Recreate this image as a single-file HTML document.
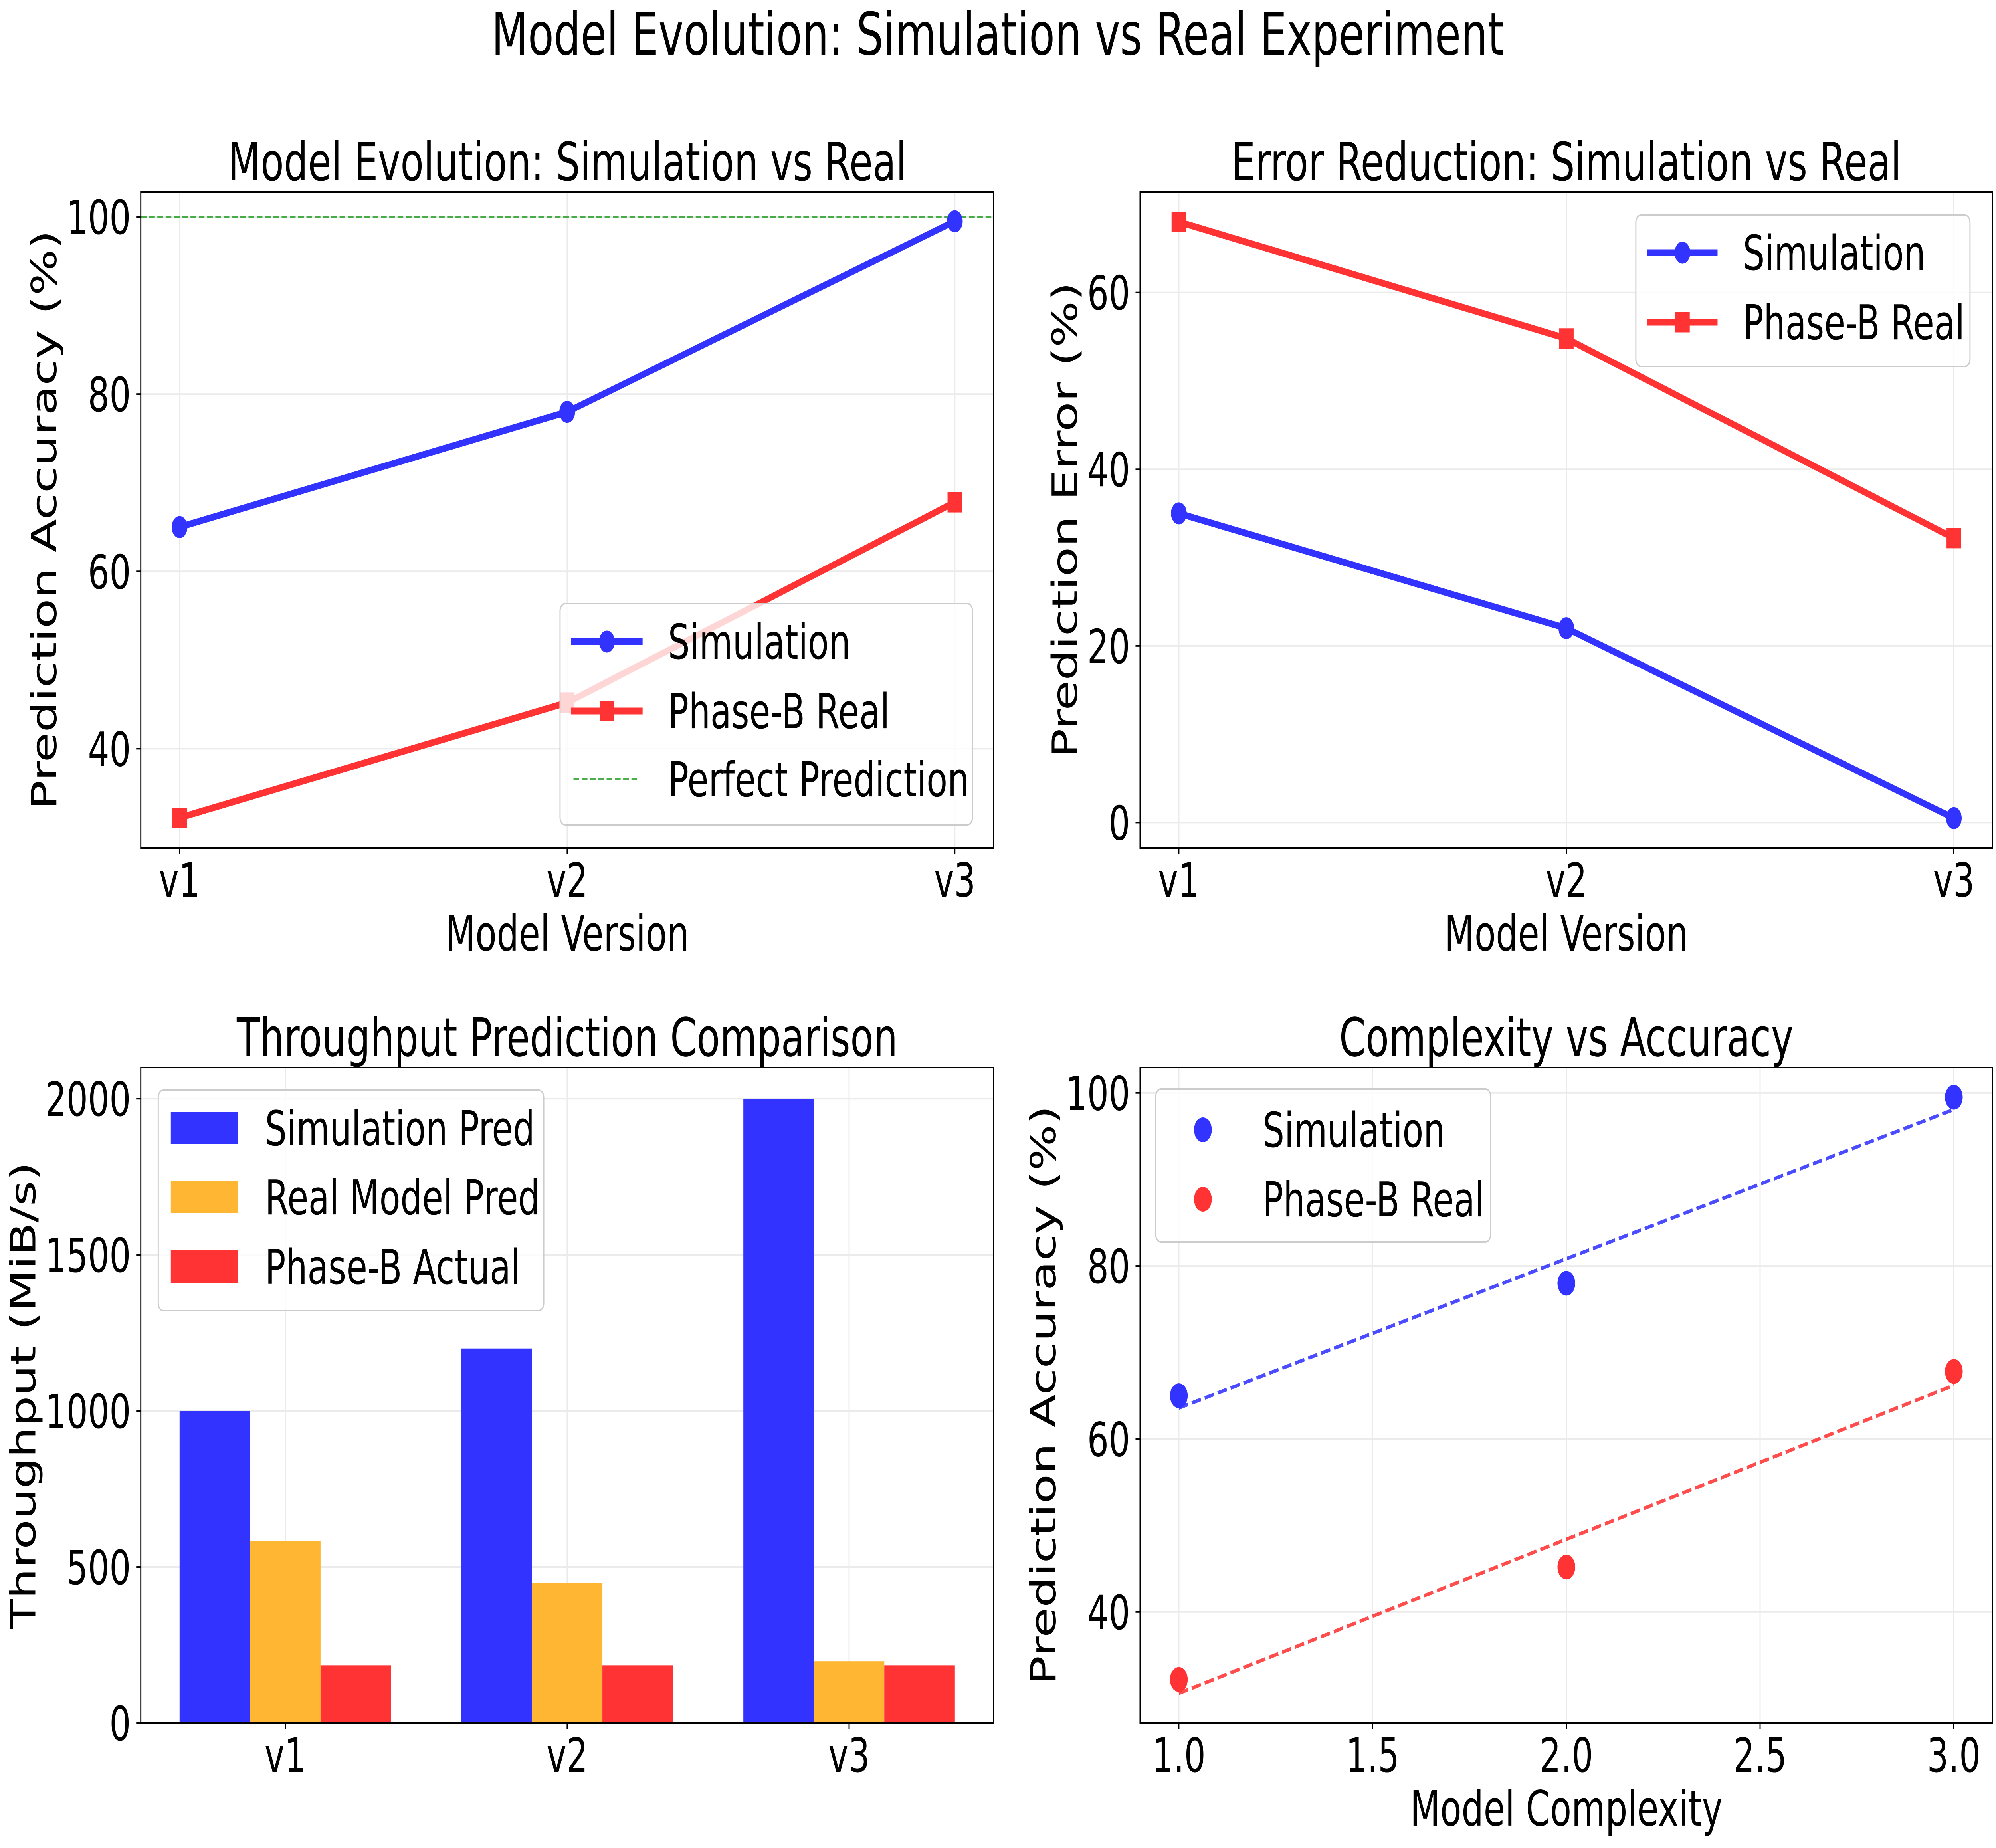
<!DOCTYPE html>
<html><head><meta charset="utf-8">
<style>
html,body{margin:0;padding:0;background:#fff;width:100%;height:100%;overflow:hidden;}
svg{display:block;width:100vw;height:100vh;font-family:"DejaVu Sans","Liberation Sans",sans-serif;}
</style></head>
<body>
<svg id="fig" xmlns="http://www.w3.org/2000/svg" viewBox="0 0 6989 4629" preserveAspectRatio="none">
<rect x="0" y="0" width="6989" height="4629" fill="#fff"/>
<text x="3494" y="137" font-size="148" text-anchor="middle">Model Evolution: Simulation vs Real Experiment</text>
</svg>
<script>
// ---- data ----
const versions = ["v1","v2","v3"];
const simAccuracy = [65, 78, 99.5];
const realAccuracy = [32.2, 45.2, 67.8];
const simError = [35, 22, 0.5];
const realError = [68, 54.8, 32.2];
const simPred = [1000, 1200, 2000];
const realModelPred = [582, 448, 198];
const phaseBActual = [185, 185, 185];
const complexity = [1, 2, 3];
const accTicks = [40, 60, 80, 100];
const errTicks = [0, 20, 40, 60];
const thrTicks = [0, 500, 1000, 1500, 2000];
const cxTicks = [1.0, 1.5, 2.0, 2.5, 3.0];
const cxTickLabels = ["1.0","1.5","2.0","2.5","3.0"];

const NS = "http://www.w3.org/2000/svg";
const fig = document.getElementById('fig');
function el(tag, attrs, parent, text){
  const e = document.createElementNS(NS, tag);
  for (const k in attrs) e.setAttribute(k, attrs[k]);
  if (text !== undefined) e.textContent = text;
  (parent || fig).appendChild(e);
  return e;
}
const BLUE = "#3333ff", RED = "#ff3333", ORANGE = "#ffb733", GREEN = "#2ca02c";

function makeAxes(name, L, R, T, B, xmin, xmax, ymin, ymax){
  const g = el('g', {});
  
  
  const sx = v => L + (v - xmin) / (xmax - xmin) * (R - L);
  const sy = v => B - (v - ymin) / (ymax - ymin) * (B - T);
  return {g, sx, sy, L, R, T, B};
}
function grid(ax, xt, yt){
  const gg = el('g', {}, ax.g);
  
  
  xt.forEach(v => el('line', {x1: ax.sx(v), x2: ax.sx(v), y1: ax.T, y2: ax.B, stroke: '#ebebeb', 'stroke-width': 4}, gg));
  yt.forEach(v => el('line', {x1: ax.L, x2: ax.R, y1: ax.sy(v), y2: ax.sy(v), stroke: '#ebebeb', 'stroke-width': 4}, gg));
}
function frame(ax, xt, xl, yt, yl, title, xlabel, ylabel, ylabX){
  el('rect', {x: ax.L, y: ax.T, width: ax.R - ax.L, height: ax.B - ax.T, fill: 'none', stroke: '#000', 'stroke-width': 4}, ax.g);
  xt.forEach((v, i) => {
    el('line', {x1: ax.sx(v), x2: ax.sx(v), y1: ax.B, y2: ax.B + 16, stroke: '#000', 'stroke-width': 4}, ax.g);
    const t = el('text', {x: ax.sx(v), y: ax.B + 122, 'font-size': 118, 'text-anchor': 'middle'}, ax.g, xl[i]);
    
    
  });
  yt.forEach((v, i) => {
    el('line', {x1: ax.L - 16, x2: ax.L, y1: ax.sy(v), y2: ax.sy(v), stroke: '#000', 'stroke-width': 4}, ax.g);
    const t = el('text', {x: ax.L - 35, y: ax.sy(v) + 43, 'font-size': 118, 'text-anchor': 'end'}, ax.g, yl[i]);
    
    
  });
  const tt = el('text', {x: (ax.L + ax.R) / 2, y: ax.T - 29, 'font-size': 133, 'text-anchor': 'middle'}, ax.g, title);
  
  
  if (xlabel) {
    const xt2 = el('text', {x: (ax.L + ax.R) / 2, y: ax.B + 257, 'font-size': 122, 'text-anchor': 'middle'}, ax.g, xlabel);
    
    
  }
  const cy = (ax.T + ax.B) / 2;
  const yt2 = el('text', {x: ylabX, y: cy, 'font-size': 122, 'text-anchor': 'middle', transform: `rotate(-90 ${ylabX} ${cy})`}, ax.g, ylabel);
  
  
}
function lineSeries(ax, xs, ys, color, marker, name){
  const g = el('g', {}, ax.g);
  
  
  const pts = xs.map((x, i) => ax.sx(x) + ',' + ax.sy(ys[i])).join(' ');
  el('polyline', {points: pts, fill: 'none', stroke: color, 'stroke-width': 17, 'stroke-linejoin': 'round'}, g);
  xs.forEach((x, i) => drawMarker(g, ax.sx(x), ax.sy(ys[i]), color, marker));
}
function drawMarker(g, cx, cy, color, marker){
  if (marker === 'o') {
    const m = el('circle', {cx, cy, r: 26, fill: color, stroke: color, 'stroke-width': 3}, g);
    
    
  } else {
    const m = el('rect', {x: cx - 24, y: cy - 24, width: 48, height: 48, fill: color, stroke: color, 'stroke-width': 3}, g);
    
    
  }
}
function legendBox(ax, x, y, w, h, name){
  const g = el('g', {}, ax.g);
  
  
  el('rect', {x, y, width: w, height: h, rx: 18, fill: 'rgba(255,255,255,0.8)', stroke: '#cccccc', 'stroke-width': 4}, g);
  return g;
}
function legendText(g, x, y, txt){
  const t = el('text', {x, y: y + 43, 'font-size': 120}, g, txt);
  
  
}
const catX = [0, 1, 2];

// ---- Panel 1: accuracy ----
{
  const ax = makeAxes('accuracy-chart', 493, 3479, 481, 2124, -0.1, 2.1, 28.8, 102.8);
  grid(ax, catX, accTicks);
  el('line', {x1: ax.L, x2: ax.R, y1: ax.sy(100), y2: ax.sy(100), stroke: GREEN, 'stroke-opacity': 0.85, 'stroke-width': 5, 'stroke-dasharray': '20 9'}, ax.g);
  lineSeries(ax, catX, simAccuracy, BLUE, 'o', 'simulation-line');
  lineSeries(ax, catX, realAccuracy, RED, 's', 'phase-b-real-line');
  frame(ax, catX, versions, accTicks, accTicks.map(String), 'Model Evolution: Simulation vs Real', 'Model Version', 'Prediction Accuracy (%)', 197);
  const lg = legendBox(ax, 1961, 1512, 1444, 554, 'legend');
  el('line', {x1: 2000, x2: 2250, y1: 1607, y2: 1607, stroke: BLUE, 'stroke-width': 17}, lg); drawMarker(lg, 2125, 1607, BLUE, 'o');
  legendText(lg, 2339, 1607, 'Simulation');
  el('line', {x1: 2000, x2: 2250, y1: 1781, y2: 1781, stroke: RED, 'stroke-width': 17}, lg); drawMarker(lg, 2125, 1781, RED, 's');
  legendText(lg, 2339, 1781, 'Phase-B Real');
  el('line', {x1: 2008, x2: 2242, y1: 1952, y2: 1952, stroke: GREEN, 'stroke-opacity': 0.85, 'stroke-width': 5, 'stroke-dasharray': '20 9'}, lg);
  legendText(lg, 2339, 1952, 'Perfect Prediction');
}
// ---- Panel 2: error ----
{
  const ax = makeAxes('error-chart', 3992, 6977, 481, 2124, -0.1, 2.1, -2.875, 71.375);
  grid(ax, catX, errTicks);
  lineSeries(ax, catX, simError, BLUE, 'o', 'simulation-line');
  lineSeries(ax, catX, realError, RED, 's', 'phase-b-real-line');
  frame(ax, catX, versions, errTicks, errTicks.map(String), 'Error Reduction: Simulation vs Real', 'Model Version', 'Prediction Error (%)', 3771);
  const lg = legendBox(ax, 5728, 539, 1170, 379, 'legend');
  el('line', {x1: 5768, x2: 6014, y1: 633, y2: 633, stroke: BLUE, 'stroke-width': 17}, lg); drawMarker(lg, 5891, 633, BLUE, 'o');
  legendText(lg, 6103, 633, 'Simulation');
  el('line', {x1: 5768, x2: 6014, y1: 807, y2: 807, stroke: RED, 'stroke-width': 17}, lg); drawMarker(lg, 5891, 807, RED, 's');
  legendText(lg, 6103, 807, 'Phase-B Real');
}
// ---- Panel 3: throughput bars ----
{
  const ax = makeAxes('throughput-chart', 493, 3479, 2674, 4316, -0.5125, 2.5125, 0, 2100);
  grid(ax, catX, thrTicks);
  const series = [[simPred, BLUE, -0.25, 'simulation-pred'], [realModelPred, ORANGE, 0, 'real-model-pred'], [phaseBActual, RED, 0.25, 'phase-b-actual']];
  const bw = 0.25;
  series.forEach(([vals, col, off, nm]) => {
    vals.forEach((v, i) => {
      const x0 = ax.sx(catX[i] + off - bw / 2), x1 = ax.sx(catX[i] + off + bw / 2);
      const r = el('rect', {x: x0, y: ax.sy(v), width: x1 - x0, height: ax.sy(0) - ax.sy(v), fill: col}, ax.g);
      
      
    });
  });
  frame(ax, catX, versions, thrTicks, thrTicks.map(String), 'Throughput Prediction Comparison', null, 'Throughput (MiB/s)', 124);
  const lg = legendBox(ax, 554, 2731, 1350, 552, 'legend');
  el('rect', {x: 598, y: 2785, width: 235, height: 81, fill: BLUE}, lg); legendText(lg, 928, 2826, 'Simulation Pred');
  el('rect', {x: 598, y: 2958, width: 235, height: 81, fill: ORANGE}, lg); legendText(lg, 928, 2999, 'Real Model Pred');
  el('rect', {x: 598, y: 3132, width: 235, height: 81, fill: RED}, lg); legendText(lg, 928, 3173, 'Phase-B Actual');
}
// ---- Panel 4: complexity scatter ----
{
  const ax = makeAxes('complexity-chart', 3992, 6977, 2674, 4316, 0.9, 3.1, 27.16, 102.94);
  grid(ax, cxTicks, accTicks);
  function fit(xs, ys){
    const n = xs.length, mx = xs.reduce((a,b)=>a+b)/n, my = ys.reduce((a,b)=>a+b)/n;
    let num = 0, den = 0;
    xs.forEach((x, i) => { num += (x - mx) * (ys[i] - my); den += (x - mx) * (x - mx); });
    const m = num / den; return [m, my - m * mx];
  }
  [[simAccuracy, BLUE, 'simulation'], [realAccuracy, RED, 'phase-b-real']].forEach(([ys, col, nm]) => {
    const [m, b] = fit(complexity, ys);
    const x0 = complexity[0], x1 = complexity[complexity.length - 1];
    const ln = el('line', {x1: ax.sx(x0), y1: ax.sy(m * x0 + b), x2: ax.sx(x1), y2: ax.sy(m * x1 + b), stroke: col, 'stroke-opacity': 0.88, 'stroke-width': 9, 'stroke-dasharray': '33 14'}, ax.g);
    
    
    complexity.forEach((x, i) => {
      const c = el('circle', {cx: ax.sx(x), cy: ax.sy(ys[i]), r: 31, fill: col}, ax.g);
      
      
    });
  });
  frame(ax, cxTicks, cxTickLabels, accTicks, accTicks.map(String), 'Complexity vs Accuracy', 'Model Complexity', 'Prediction Accuracy (%)', 3696);
  const lg = legendBox(ax, 4047, 2728, 1172, 383, 'legend');
  el('circle', {cx: 4212, cy: 2830, r: 31, fill: BLUE}, lg); legendText(lg, 4421, 2830, 'Simulation');
  el('circle', {cx: 4212, cy: 3004, r: 31, fill: RED}, lg); legendText(lg, 4421, 3004, 'Phase-B Real');
}
</script>
</body></html>
